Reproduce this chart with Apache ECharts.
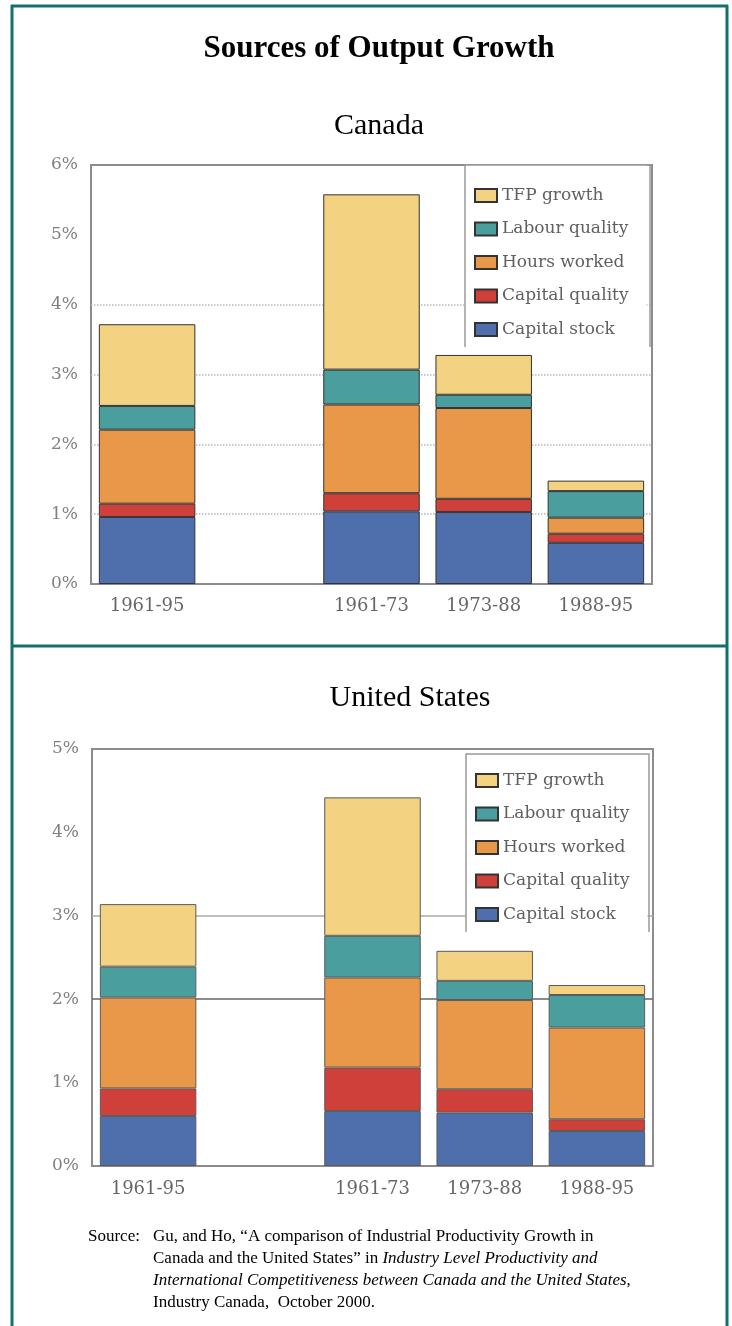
<!DOCTYPE html>
<html>
<head>
<meta charset="utf-8">
<script src="https://cdn.jsdelivr.net/npm/echarts@6/dist/echarts.min.js"></script>
<style>
  html, body { margin: 0; padding: 0; background: #fff; }
  #chart { width: 732px; height: 1326px; }
</style>
</head>
<body>
<div id="chart"></div>
<script>
// categories (the empty one is the gap after the full period)
const periods = ['1961-95', '', '1961-73', '1973-88', '1988-95'];
const componentNames = ['Capital stock', 'Capital quality', 'Hours worked', 'Labour quality', 'TFP growth'];
const componentColors = ['#4f6eac', '#d0403a', '#e89848', '#4a9e9e', '#f3d382'];

// Canada, contribution to output growth (% per year)
const caCapitalStock = [0.96, null, 1.04, 1.03, 0.59];
const caCapitalQuality = [0.19, null, 0.26, 0.19, 0.13];
const caHoursWorked = [1.06, null, 1.27, 1.30, 0.23];
const caLabourQuality = [0.34, null, 0.50, 0.19, 0.38];
const caTfpGrowth = [1.17, null, 2.51, 0.57, 0.15];

// United States
const usCapitalStock = [0.60, null, 0.66, 0.64, 0.42];
const usCapitalQuality = [0.33, null, 0.52, 0.28, 0.14];
const usHoursWorked = [1.09, null, 1.08, 1.07, 1.10];
const usLabourQuality = [0.37, null, 0.50, 0.23, 0.39];
const usTfpGrowth = [0.75, null, 1.66, 0.36, 0.12];

const caValues = [caCapitalStock, caCapitalQuality, caHoursWorked, caLabourQuality, caTfpGrowth];
const usValues = [usCapitalStock, usCapitalQuality, usHoursWorked, usLabourQuality, usTfpGrowth];

const teal = '#11706f';
const serif = 'Liberation Serif';
const labelFont = 'DejaVu Serif';
const clear = 'rgba(0,0,0,0)';

const makeSeries = (values, gridIdx, stack, border) => values.map((data, i) => ({
    name: componentNames[i],
    type: 'bar',
    stack: stack,
    xAxisIndex: gridIdx,
    yAxisIndex: gridIdx,
    data: data,
    barCategoryGap: '14%',
    itemStyle: { color: componentColors[i], borderColor: border, borderWidth: 1 },
    emphasis: { disabled: true }
}));

const makeLegend = (left, top, padTop) => ({
    orient: 'vertical',
    left: left,
    top: top,
    padding: [padTop, 18, 12, 9],
    backgroundColor: '#fff',
    data: componentNames.slice().reverse(),
    icon: 'rect',
    itemWidth: 22,
    itemHeight: 13,
    itemGap: 16.5,
    selectedMode: false,
    textStyle: { fontFamily: labelFont, fontSize: 17, color: '#606060' }
});

const xAxisFor = (gridIdx, margin) => ({
    gridIndex: gridIdx,
    type: 'category',
    data: periods,
    axisLine: { show: false },
    axisTick: { show: false },
    axisLabel: { fontFamily: labelFont, fontSize: 18, color: '#666', margin: margin }
});

const yAxisFor = (gridIdx, max, lineType, lineColors) => ({
    gridIndex: gridIdx,
    type: 'value',
    min: 0,
    max: max,
    interval: 1,
    axisLine: { show: false },
    axisTick: { show: false },
    axisLabel: { formatter: '{value}%', fontFamily: labelFont, fontSize: 17, color: '#808080', margin: 13 },
    splitLine: {
        show: true,
        showMinLine: false,
        showMaxLine: false,
        lineStyle: { type: lineType, color: lineColors, width: 1.5 }
    }
});

const chart = echarts.init(document.getElementById('chart'));

chart.setOption({
    animation: false,
    backgroundColor: '#fff',
    grid: [
        { left: 91, top: 165, width: 561, height: 419, show: true, borderColor: '#8c8c8c', borderWidth: 2 },
        { left: 92, top: 749, width: 561, height: 417, show: true, borderColor: '#8c8c8c', borderWidth: 2 }
    ],
    legend: [makeLegend(465, 165, 22), makeLegend(466, 754, 18)],
    xAxis: [xAxisFor(0, 13), xAxisFor(1, 14)],
    yAxis: [
        yAxisFor(0, 6, 'dotted', ['#b8b8b8', '#b8b8b8', '#b8b8b8', '#b8b8b8', clear]),
        yAxisFor(1, 5, 'solid', [clear, '#666', '#aaa', clear])
    ],
    series: makeSeries(caValues, 0, 'canada', '#333').concat(makeSeries(usValues, 1, 'us', '#5a5a5a')),
    graphic: [
        // page frame
        { type: 'line', shape: { x1: 12, y1: 5, x2: 12, y2: 1326 }, style: { stroke: teal, lineWidth: 3 } },
        { type: 'line', shape: { x1: 727, y1: 5, x2: 727, y2: 1326 }, style: { stroke: teal, lineWidth: 3 } },
        { type: 'line', shape: { x1: 11, y1: 6, x2: 728, y2: 6 }, style: { stroke: teal, lineWidth: 3 } },
        { type: 'line', shape: { x1: 11, y1: 646, x2: 728, y2: 646 }, style: { stroke: teal, lineWidth: 3 } },
        // legend box edges
        { type: 'polyline', z: 10, shape: { points: [[465, 347], [465, 165], [650, 165], [650, 347]] }, style: { stroke: '#9a9a9a', lineWidth: 1.5, fill: null } },
        { type: 'polyline', z: 10, shape: { points: [[466, 932], [466, 754], [649, 754], [649, 932]] }, style: { stroke: '#9a9a9a', lineWidth: 1.5, fill: null } },
        // headings
        { type: 'text', x: 379, y: 49, style: { text: 'Sources of Output Growth', fontFamily: serif, fontWeight: 'bold', fontSize: 31, fill: '#000', align: 'center', verticalAlign: 'middle' } },
        { type: 'text', x: 379, y: 126, style: { text: 'Canada', fontFamily: serif, fontSize: 30, fill: '#000', align: 'center', verticalAlign: 'middle' } },
        { type: 'text', x: 410, y: 698, style: { text: 'United States', fontFamily: serif, fontSize: 30, fill: '#000', align: 'center', verticalAlign: 'middle' } },
        // source note
        { type: 'text', x: 88, y: 1237, style: { text: 'Source:', fontFamily: serif, fontSize: 17, fill: '#000', verticalAlign: 'middle' } },
        { type: 'text', x: 153, y: 1237, style: { text: 'Gu, and Ho, \u201cA comparison of Industrial Productivity Growth in', fontFamily: serif, fontSize: 17, fill: '#000', verticalAlign: 'middle' } },
        { type: 'text', x: 153, y: 1259, style: {
            text: 'Canada and the United States\u201d in {i|Industry Level Productivity and}',
            fontFamily: serif, fontSize: 17, fill: '#000', verticalAlign: 'middle',
            rich: { i: { fontFamily: serif, fontSize: 17, fontStyle: 'italic', fill: '#000' } }
        } },
        { type: 'text', x: 153, y: 1281, style: {
            text: '{i|International Competitiveness between Canada and the United States},',
            fontFamily: serif, fontSize: 17, fill: '#000', verticalAlign: 'middle',
            rich: { i: { fontFamily: serif, fontSize: 17, fontStyle: 'italic', fill: '#000' } }
        } },
        { type: 'text', x: 153, y: 1303, style: { text: 'Industry Canada,  October 2000.', fontFamily: serif, fontSize: 17, fill: '#000', verticalAlign: 'middle' } }
    ]
});

window.onresize = () => chart.resize();
</script>
</body>
</html>
